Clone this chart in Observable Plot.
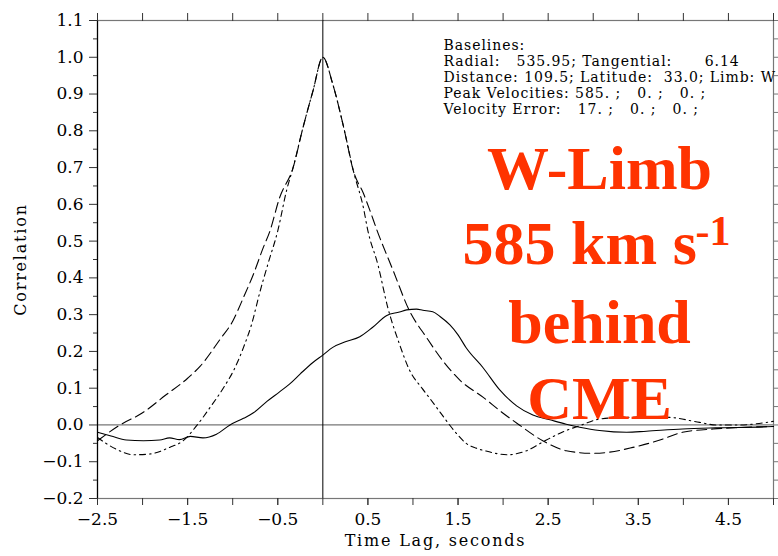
<!DOCTYPE html>
<html>
<head>
<meta charset="utf-8">
<script src="https://cdn.jsdelivr.net/npm/d3@7"></script>
<script src="https://cdn.jsdelivr.net/npm/@observablehq/plot@0.6"></script>
<style>
  html, body { margin: 0; padding: 0; background: #fff; }
  g[font-size="14"] text { letter-spacing: 0.95px; }
  g[font-size="16"] text { letter-spacing: 1.8px; }
</style>
</head>
<body>
<div id="chart"></div>
<script>
// ---- data ----
const xDomain = [-2.5, 5];
const yDomain = [-0.2, 1.1];

const solidT = [-2.5, -2.35, -2.18, -1.99, -1.81, -1.7, -1.59, -1.47, -1.33, -1.18, -1.03, -0.88, -0.77, -0.62, -0.48, -0.37, -0.25, -0.11, 0.0, 0.11, 0.25, 0.41, 0.55, 0.71, 0.85, 0.93, 1.04, 1.11, 1.22, 1.3, 1.41, 1.5, 1.59, 1.78, 1.96, 2.15, 2.33, 2.52, 2.7, 2.85, 3.07, 3.37, 3.59, 3.99, 4.36, 4.92, 5.0];
const solidV = [-0.02, -0.03, -0.041, -0.043, -0.041, -0.035, -0.04, -0.031, -0.035, -0.025, 0.0, 0.018, 0.033, 0.064, 0.09, 0.111, 0.139, 0.17, 0.19, 0.211, 0.226, 0.24, 0.265, 0.298, 0.307, 0.313, 0.315, 0.312, 0.308, 0.295, 0.272, 0.245, 0.21, 0.155, 0.096, 0.052, 0.027, 0.014, 0.002, -0.006, -0.015, -0.02, -0.017, -0.011, -0.008, -0.005, -0.004];

const dashedT = [-2.5, -2.25, -2.0, -1.75, -1.5, -1.36, -1.14, -1.0, -0.88, -0.77, -0.66, -0.59, -0.48, -0.33, -0.22, -0.11, 0.0, 0.11, 0.24, 0.34, 0.45, 0.52, 0.6, 0.78, 0.96, 1.15, 1.33, 1.52, 1.78, 2.0, 2.18, 2.44, 2.7, 2.99, 3.18, 3.44, 3.74, 3.99, 4.33, 4.62, 5.0];
const dashedV = [-0.043, 0.0, 0.033, 0.08, 0.127, 0.16, 0.233, 0.282, 0.347, 0.41, 0.483, 0.525, 0.618, 0.7, 0.809, 0.908, 1.0, 0.927, 0.8, 0.69, 0.63, 0.585, 0.53, 0.42, 0.311, 0.238, 0.175, 0.122, 0.075, 0.032, 0.0, -0.043, -0.07, -0.077, -0.074, -0.061, -0.041, -0.02, -0.011, -0.007, -0.004];

const dashDotT = [-2.5, -2.3, -2.1, -1.92, -1.7, -1.55, -1.4, -1.25, -1.1, -0.99, -0.88, -0.79, -0.7, -0.61, -0.5, -0.4, -0.33, -0.22, -0.11, 0.0, 0.11, 0.24, 0.34, 0.45, 0.5, 0.61, 0.72, 0.85, 0.96, 1.1, 1.2, 1.3, 1.4, 1.5, 1.59, 1.7, 1.81, 2.05, 2.26, 2.48, 2.7, 2.85, 3.07, 3.37, 3.81, 4.18, 4.36, 4.62, 5.0];
const dashDotV = [-0.034, -0.065, -0.081, -0.079, -0.061, -0.043, -0.002, 0.048, 0.102, 0.148, 0.211, 0.274, 0.36, 0.437, 0.528, 0.64, 0.7, 0.809, 0.908, 1.0, 0.927, 0.8, 0.69, 0.591, 0.528, 0.437, 0.32, 0.22, 0.15, 0.1, 0.068, 0.035, 0.002, -0.028, -0.05, -0.063, -0.071, -0.081, -0.07, -0.041, -0.015, -0.002, 0.016, 0.021, 0.021, 0.007, 0.0, 0.0, 0.01];

const yMajorTicks = [-0.2, -0.1, 0.0, 0.1, 0.2, 0.3, 0.4, 0.5, 0.6, 0.7, 0.8, 0.9, 1.0, 1.1];
const yMinorTicks = [-0.15, -0.05, 0.05, 0.15, 0.25, 0.35, 0.45, 0.55, 0.65, 0.75, 0.85, 0.95, 1.05];
const yRightTicks = [-0.2, -0.15, -0.1, -0.05, 0.0, 0.05, 0.1, 0.15, 0.2, 0.25, 0.3, 0.35, 0.4, 0.45, 0.5, 0.55, 0.6, 0.65, 0.7, 0.75, 0.8, 0.85, 0.9, 0.95, 1.0, 1.05, 1.1];
const xLabelTicks = [-2.5, -1.5, -0.5, 0.5, 1.5, 2.5, 3.5, 4.5];
const xHalfTicks = [-2.5, -2.0, -1.5, -1.0, -0.5, 0.0, 0.5, 1.0, 1.5, 2.0, 2.5, 3.0, 3.5, 4.0, 4.5, 5.0];
const refX = [0];
const refY = [0];

const xLabel = "Time Lag, seconds";
const yLabel = "Correlation";
const infoLines = [
  "Baselines:",
  "Radial:   535.95; Tangential:      6.14",
  "Distance: 109.5; Latitude:  33.0; Limb: W",
  "Peak Velocities: 585. ;   0. ;   0. ;",
  "Velocity Error:   17. ;   0. ;   0. ;"
];
const redLines = ["W-Limb", "585 km s", "-1", "behind", "CME"];

// ---- build ----
const zip = (ts, vs) => ts.map((t, i) => ({t, v: vs[i]}));
const solid = zip(solidT, solidV);
const dashed = zip(dashedT, dashedV);
const dashDot = zip(dashDotT, dashDotV);
const fmt = d3.format(".1f");
const blank = () => "";
const red = "#ff3300";
const redFont = "Liberation Serif, Times New Roman, serif";

const chart = Plot.plot({
  width: 778,
  height: 556,
  marginLeft: 97,
  marginRight: 5,
  marginTop: 20,
  marginBottom: 58,
  style: {fontFamily: "DejaVu Serif, serif", background: "#fff", color: "#000"},
  x: {domain: xDomain},
  y: {domain: yDomain},
  marks: [
    Plot.frame({stroke: "#777", strokeWidth: 1.2}),
    Plot.ruleY(refY, {stroke: "#777", strokeWidth: 1.2}),
    Plot.ruleX(refX, {stroke: "#000", strokeWidth: 1}),
    Plot.ruleX([xDomain[0]], {stroke: "#000", strokeWidth: 1.2}),
    Plot.axisY(yMajorTicks, {anchor: "left", tickSize: 8, tickPadding: 6, tickFormat: fmt, fontSize: 17, label: null, stroke: "#333"}),
    Plot.axisY(yMinorTicks, {anchor: "left", tickSize: 4, tickFormat: blank, label: null, stroke: "#333"}),
    Plot.axisY(yRightTicks, {anchor: "right", tickSize: 5, tickFormat: blank, label: null, stroke: "#777"}),
    Plot.axisX(xLabelTicks, {anchor: "bottom", tickSize: 7, tickPadding: 7, tickFormat: fmt, fontSize: 17, label: null, stroke: "#333"}),
    Plot.axisX(xHalfTicks, {anchor: "bottom", tickSize: 7, tickFormat: blank, label: null, stroke: "#333"}),
    Plot.axisX(xHalfTicks, {anchor: "top", tickSize: 8, tickFormat: blank, label: null, stroke: "#333"}),
    Plot.line(dashed, {x: "t", y: "v", stroke: "#000", strokeWidth: 1.1, strokeDasharray: "10,5", curve: "monotone-x"}),
    Plot.line(dashDot, {x: "t", y: "v", stroke: "#000", strokeWidth: 1.1, strokeDasharray: "6,4,1.5,4", curve: "monotone-x"}),
    Plot.line(solid, {x: "t", y: "v", stroke: "#000", strokeWidth: 1.1, curve: "monotone-x"}),
    Plot.text([yLabel], {frameAnchor: "left", rotate: -90, dx: -77, fontSize: 16, textAnchor: "middle", fill: "#000"}),
    Plot.text([xLabel], {frameAnchor: "bottom", dy: 47, fontSize: 16, textAnchor: "middle", fill: "#000"}),
    Plot.text([infoLines.map(s => s.replace(/ /g, "\u00a0")).join("\n")], {frameAnchor: "top-left", dx: 346, dy: 18, fontSize: 14, lineHeight: 16 / 14, lineAnchor: "top", textAnchor: "start", fill: "#000"}),
    Plot.text([redLines[0]], {frameAnchor: "top-left", dx: 502, dy: 124, fontSize: 62, fontWeight: "bold", fontFamily: redFont, textAnchor: "middle", lineAnchor: "top", fill: red}),
    Plot.text([redLines[1]], {frameAnchor: "top-left", dx: 365, dy: 199, fontSize: 62, fontWeight: "bold", fontFamily: redFont, textAnchor: "start", lineAnchor: "top", fill: red}),
    Plot.text([redLines[2]], {frameAnchor: "top-left", dx: 598, dy: 195, fontSize: 42, fontWeight: "bold", fontFamily: redFont, textAnchor: "start", lineAnchor: "top", fill: red}),
    Plot.text([redLines[3]], {frameAnchor: "top-left", dx: 502, dy: 278, fontSize: 62, fontWeight: "bold", fontFamily: redFont, textAnchor: "middle", lineAnchor: "top", fill: red}),
    Plot.text([redLines[4]], {frameAnchor: "top-left", dx: 502, dy: 354, fontSize: 62, fontWeight: "bold", fontFamily: redFont, textAnchor: "middle", lineAnchor: "top", fill: red})
  ]
});
document.getElementById("chart").appendChild(chart);
</script>
</body>
</html>
